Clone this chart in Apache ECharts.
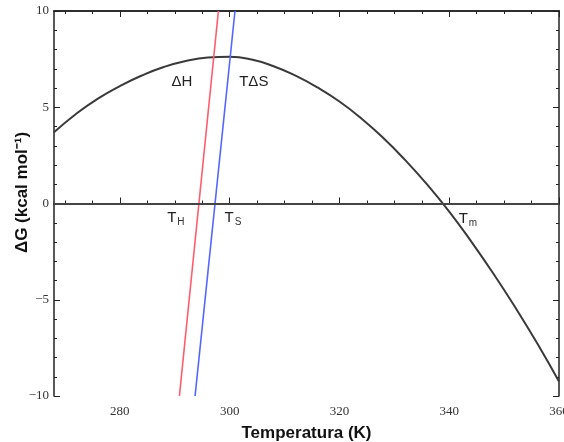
<!DOCTYPE html>
<html>
<head>
<meta charset="utf-8">
<script src="https://cdn.jsdelivr.net/npm/echarts@6/dist/echarts.min.js"></script>
<style>
  html, body { margin: 0; padding: 0; background: #fff; }
  #chart { width: 564px; height: 442px; }
</style>
</head>
<body>
<div id="chart"></div>
<script>
// ΔG curve (K, kcal/mol)
const temps = [268, 272, 276, 280, 284, 288, 292, 296, 300, 304, 308, 312, 316, 320, 324, 328, 332, 336, 340, 344, 348, 352, 356, 360];
const dG = [3.7, 4.65, 5.45, 6.1, 6.65, 7.09, 7.4, 7.58, 7.62, 7.48, 7.13, 6.64, 6.03, 5.3, 4.42, 3.4, 2.25, 0.98, -0.42, -1.97, -3.62, -5.38, -7.25, -9.25];

// straight lines ΔH (red) and TΔS (blue): end points at y = -10 and y = 10
const dHLine = [[290.85, -10], [297.95, 10]];
const tdSLine = [[293.7, -10], [300.97, 10]];

const xMajor = [280, 300, 320, 340, 360];
const xMinor = [270, 275, 285, 290, 295, 305, 310, 315, 325, 330, 335, 345, 350, 355];

// text marks placed at data coordinates
const notes = [
  { coord: [291.3, 6.3], text: 'ΔH' },
  { coord: [304.4, 6.3], text: 'TΔS' },
  { coord: [290.2, -0.75], text: 'T{s|H}' },
  { coord: [300.6, -0.75], text: 'T{s|S}' },
  { coord: [343.4, -0.8], text: 'T{s|m}' }
];

const chart = echarts.init(document.getElementById('chart'));

const axisLine = { show: true, lineStyle: { color: '#222', width: 1.5 } };
const tickFont = { fontFamily: 'Liberation Serif', fontSize: 13, color: '#333' };

function xAx(position, ticks, len, labels) {
  return {
    type: 'value', min: 268, max: 360, position: position,
    axisLine: axisLine,
    splitLine: { show: false },
    axisTick: { show: true, inside: true, length: len, customValues: ticks, lineStyle: { color: '#222', width: 1 } },
    axisLabel: labels ? Object.assign({ show: true, customValues: xMajor, margin: 9 }, tickFont) : { show: false }
  };
}

const xAxes = [
  xAx('bottom', xMajor, 6, true),
  xAx('bottom', xMinor, 3, false),
  xAx('top', xMajor, 6, false),
  xAx('top', xMinor, 3, false)
];
xAxes[0].name = 'Temperatura (K)';
xAxes[0].nameLocation = 'middle';
xAxes[0].nameGap = 29;
xAxes[0].nameMoveOverlap = false;
xAxes[0].nameTextStyle = { fontFamily: 'Liberation Sans', fontWeight: 'bold', fontSize: 17, color: '#111' };

function yAx(position, labels) {
  return {
    type: 'value', min: -10, max: 10, interval: 5, position: position,
    axisLine: axisLine,
    splitLine: { show: false },
    axisTick: { show: true, inside: true, length: 6, lineStyle: { color: '#222', width: 1 } },
    minorTick: { show: true, splitNumber: 5, length: 3, lineStyle: { color: '#222', width: 1 } },
    minorSplitLine: { show: false },
    axisLabel: labels ? Object.assign({
      show: true, margin: 5,
      formatter: v => String(v).replace('-', '\u2212')
    }, tickFont) : { show: false }
  };
}

const yAxes = [yAx('left', true), yAx('right', false)];
yAxes[0].name = 'ΔG (kcal mol\u207B\u00B9)';
yAxes[0].nameLocation = 'middle';
yAxes[0].nameGap = 23;
yAxes[0].nameMoveOverlap = false;
yAxes[0].nameTextStyle = { fontFamily: 'Liberation Sans', fontWeight: 'bold', fontSize: 17, color: '#111', padding: [0, 0, 0, 22] };

const option = {
  backgroundColor: '#fff',
  animation: false,
  grid: { left: 54, right: 5, top: 11, bottom: 46, outerBoundsMode: 'none' },
  xAxis: xAxes,
  yAxis: yAxes,
  series: [
    {
      type: 'line', name: 'ΔG',
      data: temps.map((t, i) => [t, dG[i]]),
      smooth: 0.5, showSymbol: false,
      lineStyle: { color: '#3a3a3a', width: 2 },
      markLine: {
        silent: true, symbol: 'none', label: { show: false },
        lineStyle: { color: '#444', width: 2, type: 'solid' },
        data: [{ yAxis: 0 }]
      },
      markPoint: {
        symbol: 'circle', symbolSize: 0,
        label: {
          show: true, position: 'inside',
          fontFamily: 'Liberation Sans', fontSize: 15, color: '#222',
          formatter: p => p.data.text,
          rich: { s: { fontFamily: 'Liberation Sans', fontSize: 10, color: '#333', padding: [8, 0, 0, 1] } }
        },
        data: notes.map(n => ({ coord: n.coord, text: n.text }))
      }
    },
    {
      type: 'line', name: 'ΔH', data: dHLine, showSymbol: false,
      lineStyle: { color: '#ff5d6e', width: 1.6 }
    },
    {
      type: 'line', name: 'TΔS', data: tdSLine, showSymbol: false,
      lineStyle: { color: '#5566ff', width: 1.6 }
    }
  ]
};

chart.setOption(option);
</script>
</body>
</html>
